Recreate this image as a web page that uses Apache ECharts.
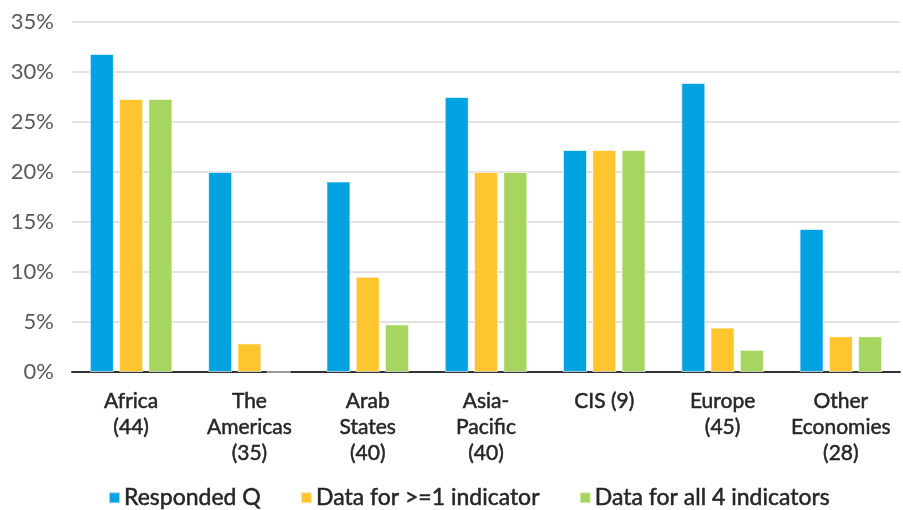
<!DOCTYPE html>
<html>
<head>
<meta charset="utf-8">
<script src="https://cdn.jsdelivr.net/npm/echarts@6/dist/echarts.min.js"></script>
<style>
html,body{margin:0;padding:0;background:#fff;}
#chart{width:903px;height:510px;}
</style>
</head>
<body>
<div id="chart"></div>
<script>
// categories and values (percent)
var categories=['Africa\n(44)','The\nAmericas\n(35)','Arab\nStates\n(40)','Asia-\nPacific\n(40)','CIS (9)','Europe\n(45)','Other\nEconomies\n(28)'];
var respondedQ=[31.8,20.0,19.05,27.5,22.2,28.9,14.3];
var dataOne=[27.3,2.86,9.52,20.0,22.2,4.44,3.57];
var dataAll=[27.3,0,4.76,20.0,22.2,2.22,3.57];
var seriesNames=['Responded Q','Data for >=1 indicator','Data for all 4 indicators'];
var colors=['#00a3e0','#ffc52f','#a6d65f'];

var myChart=echarts.init(document.getElementById('chart'));
var font='Lato, "Noto Sans", sans-serif';

function makeSerie(name,data,i){
    return {
        name:name,
        type:'bar',
        data:data,
        barWidth:24,
        barGap:'22%',
        itemStyle:{color:colors[i],borderColor:'rgba(255,255,255,0.6)',borderWidth:1},
        emphasis:{disabled:true}
    };
}

var option={
    animation:false,
    color:colors,
    textStyle:{fontFamily:font},
    grid:{left:72,right:3,top:22,bottom:138},
    legend:{
        top:481,
        left:103,
        itemWidth:11,
        itemHeight:11,
        itemGap:39,
        icon:'rect',
        textStyle:{fontSize:23,color:'#262626',fontFamily:font,textBorderColor:'#262626',textBorderWidth:0.5,padding:[0,0,0,-1]},
        data:seriesNames
    },
    xAxis:{
        type:'category',
        data:categories,
        axisLine:{lineStyle:{color:'#333',width:2}},
        axisTick:{show:false},
        axisLabel:{fontSize:21,color:'#262626',textBorderColor:'#262626',textBorderWidth:0.5,lineHeight:26,margin:16,interval:0,fontFamily:font}
    },
    yAxis:{
        type:'value',
        min:0,
        max:35,
        interval:5,
        axisLine:{show:false},
        axisTick:{show:false},
        splitLine:{lineStyle:{color:'#d9d9d9',width:1.5}},
        axisLabel:{fontSize:22,color:'#595959',margin:18,formatter:'{value}%',fontFamily:font}
    },
    series:[
        makeSerie(seriesNames[0],respondedQ,0),
        makeSerie(seriesNames[1],dataOne,1),
        makeSerie(seriesNames[2],dataAll,2)
    ]
};
myChart.setOption(option);
window.addEventListener('resize',function(){myChart.resize();});
</script>
</body>
</html>
